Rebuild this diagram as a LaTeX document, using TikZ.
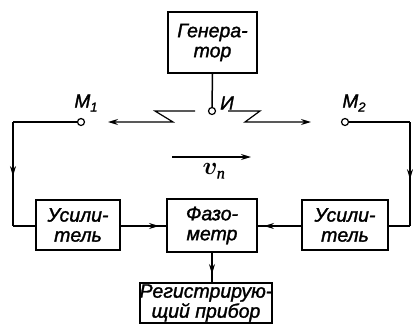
\documentclass[tikz,border=0pt]{standalone}
\usepackage{fontspec}
\setmainfont{Liberation Sans}[ItalicFeatures={FakeBold=1.5}]
\newfontfamily\serifcyr{Liberation Serif}[ItalicFeatures={FakeBold=1.5}]
\usetikzlibrary{arrows.meta,decorations.markings}
\begin{document}
\begin{tikzpicture}[x=1pt,y=-1pt,
  blk/.style={draw,line width=1.9pt,inner sep=0pt,align=center,
    font=\fontsize{19.5}{20}\selectfont\itshape},
  wire/.style={line width=1.5pt},
  thin/.style={line width=1.2pt},
  tipa/.style={-{Stealth[length=10pt,width=6pt]}},
  port/.style={circle,draw,line width=1.2pt,minimum size=7pt,inner sep=0pt,fill=white},
  lbl/.style={inner sep=0pt,font=\fontsize{19}{20}\selectfont\itshape},
  midarr/.style={postaction={decorate},decoration={markings,
    mark=at position #1 with {\arrow{Stealth[length=10pt,width=6pt]}}}}]
\useasboundingbox (0,0) rectangle (413,325);

% blocks
\node[blk,minimum width=89pt,minimum height=61pt] (gen) at (212.5,42.5) {Генера-\\тор};
\node[blk,minimum width=84pt,minimum height=50pt] (usL) at (78,225) {Усили-\\тель};
\node[blk,minimum width=90pt,minimum height=53pt] (fazo) at (212,225.5) {Фазо-\\метр};
\node[blk,minimum width=86pt,minimum height=50pt] (usR) at (345,225) {Усили-\\тель};
\node[blk,minimum width=128pt,minimum height=40pt] (reg) at (206,303) {Регистрирую-\\щий прибор};

% ports
\node[port] (I) at (212,111) {};
\node[port] (M1) at (81,122) {};
\node[port] (M2) at (345,122) {};
\node[lbl] (lI) at (227,103) {И};
\node[lbl] (lM1) at (86,103) {M\raisebox{-4pt}{\fontsize{13}{13}\selectfont 1}};
\node[lbl] (lM2) at (354,103) {M\raisebox{-4pt}{\fontsize{13}{13}\selectfont 2}};

% generator to source
\draw[wire] (gen.south) -- (I.north);

% waves
\coordinate (wl0) at (195,111);
\coordinate (wl1) at (155,111);
\coordinate (wl2) at (173,122);
\coordinate (wl3) at (108,122);
\draw[thin,tipa] (wl0) -- (wl1) -- (wl2) -- (wl3);
\coordinate (wr0) at (228,111);
\coordinate (wr1) at (260,111);
\coordinate (wr2) at (245,122);
\coordinate (wr3) at (311,122);
\draw[thin,tipa] (wr0) -- (wr1) -- (wr2) -- (wr3);

% flow velocity
\coordinate (v0) at (172,157);
\coordinate (v1) at (251,157);
\draw[thin,tipa] (v0) -- (v1);
\node[inner sep=0pt,font=\fontsize{24}{26}\selectfont\mathversion{bold}] (vn) at (214,171)
  {$v_{\hbox{\fontsize{16}{16}\selectfont\serifcyr\itshape п}}$};

% left wire
\coordinate (cl1) at (13,122);
\coordinate (cl2) at (13,226);
\draw[wire] (M1.west) -- (cl1);
\draw[wire,midarr=0.52] (cl1) -- (cl2);
\draw[wire] (cl2) -- (cl2 -| usL.west);

% right wire
\coordinate (cr1) at (410,122);
\coordinate (cr2) at (410,226);
\draw[wire] (M2.east) -- (cr1);
\draw[wire,midarr=0.55] (cr1) -- (cr2);
\draw[wire] (cr2) -- (cr2 -| usR.east);

% amplifiers to phase meter
\coordinate (aL) at (usL.east |- 0,226);
\coordinate (aR) at (usR.west |- 0,226);
\draw[wire] (aL) -- (aL -| fazo.west);
\draw[wire,tipa,shorten >=7pt] (aL) -- (aL -| fazo.west);
\draw[wire] (aR) -- (aR -| fazo.east);
\draw[wire,tipa,shorten >=6pt] (aR) -- (aR -| fazo.east);

% phase meter to recorder
\draw[wire] (fazo.south) -- (fazo.south |- reg.north);
\draw[wire,tipa,shorten >=8pt] (fazo.south) -- (fazo.south |- reg.north);
\end{tikzpicture}
\end{document}
